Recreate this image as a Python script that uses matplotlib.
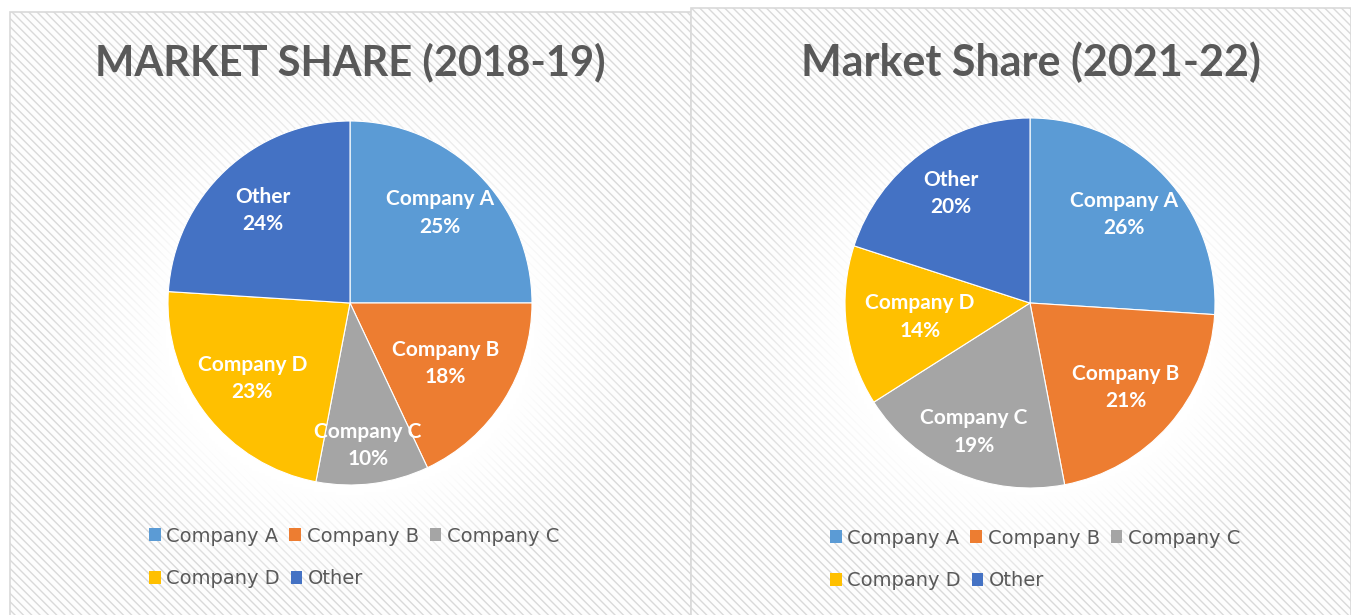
import numpy as np
import matplotlib
matplotlib.use("Agg")
import matplotlib.pyplot as plt
from matplotlib.patches import Rectangle

# data
companies = ["Company A", "Company B", "Company C", "Company D", "Other"]
share_2018 = [25, 18, 10, 23, 24]
share_2021 = [26, 21, 19, 14, 20]
titles = ["MARKET SHARE (2018-19)", "Market Share (2021-22)"]
colors = ["#5B9BD5", "#ED7D31", "#A5A5A5", "#FFC000", "#4472C4"]

# how far out each data label sits (fraction of radius), like Excel's "best fit"
label_dist = [[0.70, 0.62, 0.79, 0.68, 0.70],
              [0.70, 0.69, 0.76, 0.60, 0.73]]

W, H = 1351, 615
plt.rcParams['hatch.linewidth'] = 1.0
plt.rcParams['hatch.color'] = '#f1f1f1'

fig = plt.figure(figsize=(W / 100, H / 100), dpi=100)
fig.patch.set_facecolor("white")

# chart panels (pixel boxes: left, top, right)
panels = [(10, 12, 691), (691, 8, 1351)]
for (l, t, r) in panels:
    fig.patches.append(Rectangle((l / W, -0.01), (r - l) / W, 1.01 - t / H,
                                 transform=fig.transFigure, facecolor="#fdfdfd",
                                 edgecolor="#d9d9d9", linewidth=1.2, hatch="\\\\\\\\",
                                 zorder=-5))

# soft white glow behind each pie
for cx in [350, 1030]:
    gx = fig.add_axes([(cx - 310) / W, 0.02, 620 / W, 1 - 80 / H])
    gx.set_zorder(-1)
    yy, xx = np.mgrid[-1:1:200j, -1:1:200j]
    glow = np.clip(1 - np.sqrt(xx ** 2 + yy ** 2), 0, 1)
    rgba = np.ones((200, 200, 4))
    rgba[..., 3] = np.clip(glow * 2.5, 0, 1)
    gx.imshow(rgba, extent=(-1, 1, -1, 1), aspect="auto")
    gx.axis("off")

centers = [(350, 303, 182), (1030, 303, 185)]
title_x = [350, 1031]
title_size = [30, 31]
all_data = [share_2018, share_2021]

for i, data in enumerate(all_data):
    cx, cy, rad = centers[i]
    ax = fig.add_axes([(cx - rad) / W, 1 - (cy + rad) / H, 2 * rad / W, 2 * rad / H])
    wedges, _ = ax.pie(data, colors=colors, startangle=90, counterclock=False,
                       wedgeprops=dict(edgecolor="white", linewidth=0.8))
    ax.set_xlim(-1, 1)
    ax.set_ylim(-1, 1)
    ax.set_aspect("auto")
    ax.axis("off")
    for w, name, v, d in zip(wedges, companies, data, label_dist[i]):
        ang = np.deg2rad((w.theta1 + w.theta2) / 2)
        ax.text(d * np.cos(ang), d * np.sin(ang), f"{name}\n{v}%", ha="center", va="center",
                color="white", fontsize=15, fontweight="bold", family="Lato", linespacing=1.45)

    fig.text(title_x[i] / W, 1 - 62 / H, titles[i], ha="center", va="center",
             fontsize=title_size[i], fontweight="bold", color="#595959", family="Lato")

# legends
leg_pos = [(149, 536), (830, 538)]
for i, (lx, ly) in enumerate(leg_pos):
    handles = [Rectangle((0, 0), 1, 1, facecolor=c) for c in colors]
    kw = dict(loc="center left", frameon=False, fontsize=14, labelcolor="#595959",
              handlelength=0.6, handleheight=0.6, handletextpad=0.3, columnspacing=0.55,
              borderpad=0, borderaxespad=0)
    fig.legend(handles[:3], companies[:3], bbox_to_anchor=(lx / W, 1 - ly / H), ncol=3, **kw)
    fig.legend(handles[3:], companies[3:], bbox_to_anchor=(lx / W, 1 - (ly + 43) / H), ncol=2, **kw)

fig.savefig("out.png", dpi=100)
